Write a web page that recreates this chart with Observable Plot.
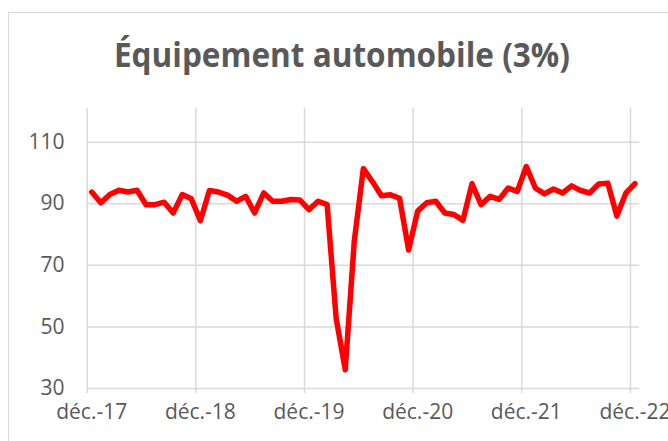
<!DOCTYPE html>
<html>
<head>
<meta charset="utf-8">
<script src="https://cdn.jsdelivr.net/npm/d3@7"></script>
<script src="https://cdn.jsdelivr.net/npm/@observablehq/plot@0.6"></script>
<style>
  html, body { margin: 0; padding: 0; background: #ffffff; }
  #wrap { position: relative; width: 668px; height: 441px; overflow: hidden; background: #ffffff; }
  #frame { position: absolute; left: 8px; top: 12px; width: 720px; height: 520px; border: 1px solid #d9d9d9; box-sizing: border-box; }
  #chart { position: absolute; left: 0; top: 0; }
</style>
</head>
<body>
<div id="wrap"><div id="frame"></div><div id="chart"></div></div>
<script>
const title = "Équipement automobile (3%)";

// Monthly observations, déc. 2017 → déc. 2022
const values = [
  93.8, 90.3, 93.0, 94.4, 93.8, 94.4, 89.7, 89.7, 90.5, 87.0, 93.0, 91.6,
  84.5, 94.3, 93.8, 92.8, 90.8, 92.4, 87.0, 93.5, 90.8, 90.8, 91.4, 91.2,
  88.1, 90.8, 89.7, 52.7, 36.1, 77.9, 101.4, 97.2, 92.6, 92.9, 91.8, 75.0,
  87.6, 90.3, 90.8, 87.0, 86.5, 84.6, 96.5, 89.7, 92.4, 91.4, 95.1, 94.0,
  102.1, 95.1, 93.2, 94.8, 93.5, 95.8, 94.3, 93.5, 96.4, 96.7, 86.0, 93.5,
  96.5
];

const tickLabels = ["déc.-17", "déc.-18", "déc.-19", "déc.-20", "déc.-21", "déc.-22"];
const tickIndex = [0, 12, 24, 36, 48, 60];
const gridIndex = [-0.5, 11.5, 23.5, 35.5, 47.5, 59.5];
const yTicks = [30, 50, 70, 90, 110];

const points = values.map((v, i) => ({i, v}));

const plot = Plot.plot({
  width: 668,
  height: 441,
  marginLeft: 86.7,
  marginRight: 29,
  marginTop: 107.8,
  marginBottom: 53,
  style: {fontFamily: "'Open Sans', sans-serif", fontSize: "21px", color: "#595959", background: "transparent", overflow: "visible"},
  x: {domain: [-0.5, 60.5], axis: null, label: null},
  y: {domain: [30, 121], axis: null, label: null},
  marks: [
    Plot.ruleY(yTicks, {stroke: "#d9d9d9", strokeWidth: 1.5}),
    Plot.ruleX(gridIndex, {stroke: "#d9d9d9", strokeWidth: 1.5, insetBottom: -5}),
    Plot.axisY(yTicks, {anchor: "left", tickSize: 0, tickPadding: 22.7, fontSize: 21, label: null}),
    Plot.axisX(tickIndex, {anchor: "bottom", tickSize: 0, tickPadding: 16, fontSize: 21, label: null,
      tickFormat: d => tickLabels[tickIndex.indexOf(d)]}),
    Plot.line(points, {x: "i", y: "v", stroke: "#ff0000", strokeWidth: 5.5, strokeLinejoin: "round", strokeLinecap: "round"}),
    Plot.text([title], {frameAnchor: "top", dx: -21.4, dy: -65, fontSize: 34, fontWeight: "bold", fill: "#595959", textAnchor: "middle", className: "ttl"})
  ]
});
document.getElementById("chart").appendChild(plot);
d3.select(plot).selectAll(".ttl text")
  .attr("textLength", 456)
  .attr("lengthAdjust", "spacingAndGlyphs");
</script>
</body>
</html>
